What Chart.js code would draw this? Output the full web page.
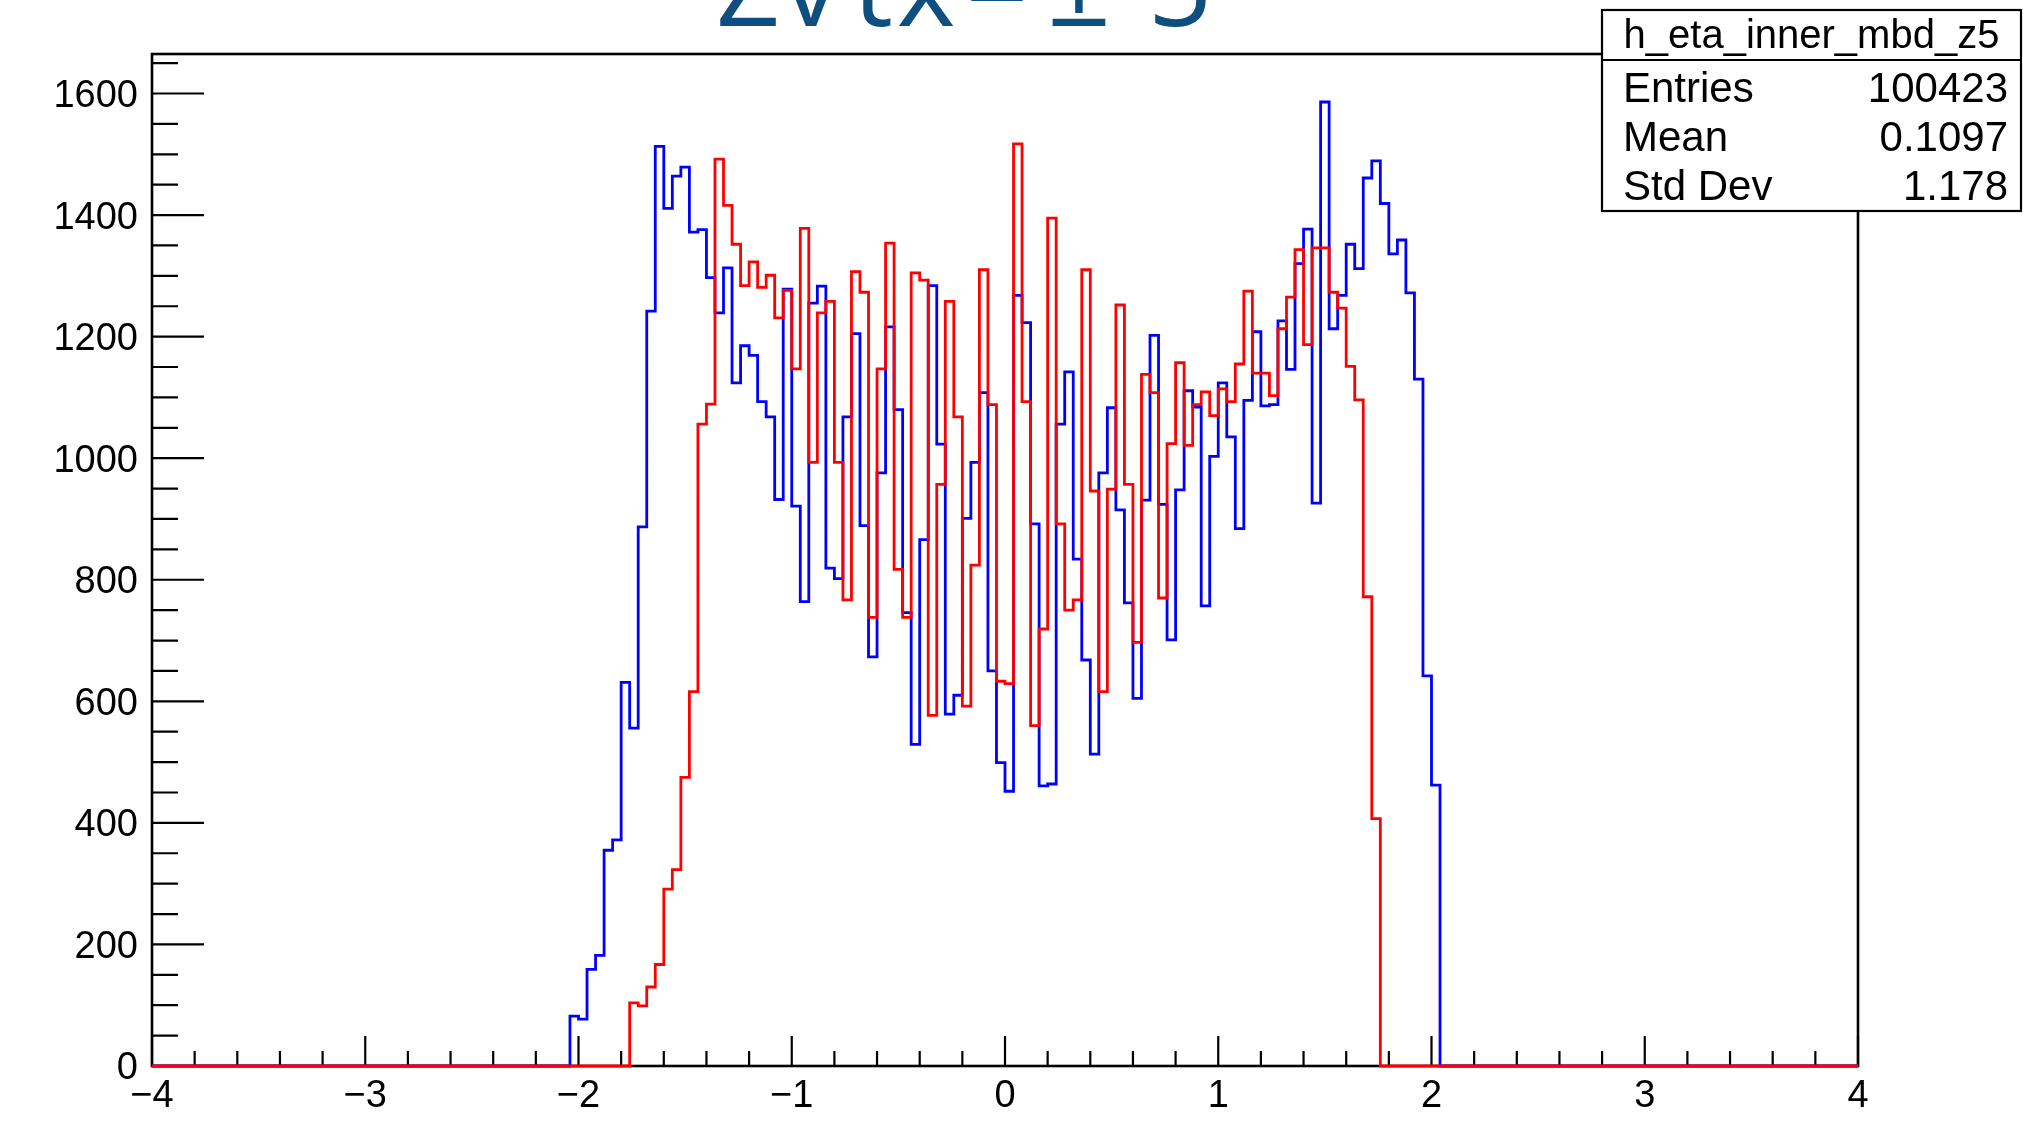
<!DOCTYPE html>
<html>
<head>
<meta charset="utf-8">
<script src="https://cdn.jsdelivr.net/npm/chart.js@4.4.0/dist/chart.umd.min.js"></script>
<style>
  html, body { margin: 0; padding: 0; background: #fff; }
  canvas { display: block; }
</style>
</head>
<body>
<canvas id="myChart" width="2023" height="1124"></canvas>
<script>

// histogram binning (200 bins from -4 to 4)
const xMin = -4;
const xMax = 4;
const binWidth = 0.04;
const nBins = 200;

// blue histogram, bins starting at -2.04
const blueStart = -2.04;
const blueCounts = [
    82, 77, 159, 182, 355, 372, 631, 556, 887, 1242,
    1513, 1411, 1464, 1479, 1372, 1376, 1297, 1239, 1313, 1124,
    1185, 1169, 1093, 1068, 932, 1278, 921, 764, 1255, 1283,
    819, 802, 1068, 1205, 889, 673, 976, 1216, 1080, 746,
    529, 866, 1284, 1023, 579, 610, 901, 993, 1108, 650,
    499, 452, 1268, 1223, 892, 461, 464, 1056, 1142, 834,
    668, 513, 976, 1083, 915, 762, 605, 931, 1202, 924,
    701, 948, 1111, 1084, 757, 1003, 1124, 1035, 884, 1095,
    1208, 1086, 1088, 1226, 1146, 1320, 1377, 926, 1586, 1213,
    1268, 1352, 1312, 1461, 1489, 1419, 1336, 1359, 1272, 1130,
    642, 462
];

// red histogram, bins starting at -1.76
const redStart = -1.76;
const redCounts = [
    104, 99, 130, 167, 291, 323, 475, 616, 1056, 1089,
    1492, 1416, 1352, 1284, 1323, 1281, 1301, 1231, 1276, 1147,
    1378, 993, 1239, 1258, 993, 767, 1307, 1273, 738, 1147,
    1354, 817, 738, 1305, 1293, 577, 957, 1258, 1068, 592,
    824, 1310, 1088, 633, 629, 1517, 1093, 560, 719, 1395,
    892, 750, 767, 1310, 946, 616, 949, 1252, 957, 697,
    1138, 1108, 770, 1024, 1157, 1021, 1088, 1109, 1070, 1114,
    1093, 1155, 1275, 1140, 1140, 1103, 1213, 1265, 1343, 1187,
    1346, 1346, 1273, 1247, 1151, 1096, 772, 407
];

const yMax = 1665;
const yTickStep = 200;
const xTickStep = 1;

const titleChars = ['Z', 'v', 't', 'x', '=', '\u00b1', '5'];
const statsName = 'h_eta_inner_mbd_z5';
const statsLabels = ['Entries', 'Mean', 'Std Dev'];
const statsValues = ['100423', '0.1097', '1.178'];


// turn counts into step points on the bin low edges
function histPoints(start, counts) {
    let firstBin = Math.round((start - xMin) / binWidth);
    let pts = [];
    for (let i = 0; i < nBins; i++) {
        let x = Math.round((xMin + i * binWidth) * 100) / 100;
        let k = i - firstBin;
        let y = (k >= 0 && k < counts.length) ? counts[k] : 0;
        pts.push({ x: x, y: y });
    }
    pts.push({ x: xMax, y: 0 }); // closing edge
    return pts;
}

function fmtMinus(v) {
    return String(v).replace('-', '\u2212');
}

// frame + inside ticks, ROOT style
const frameTicks = {
    id: 'frameTicks',
    beforeDatasetsDraw(chart) {
        const c = chart.ctx;
        const a = chart.chartArea;
        const xs = chart.scales.x;
        const ys = chart.scales.y;
        c.save();
        c.strokeStyle = '#000';
        c.lineWidth = 2.6;
        c.strokeRect(a.left, a.top, a.right - a.left, a.bottom - a.top);

        c.lineWidth = 2.2;
        c.beginPath();
        for (let v = 0; v <= yMax; v += 50) {
            let py = ys.getPixelForValue(v);
            let len = (v % 200 === 0) ? 52 : 26;
            c.moveTo(a.left, py);
            c.lineTo(a.left + len, py);
        }
        for (let i = 0; i <= 40; i++) {
            let v = xMin + i * 0.2;
            let px = xs.getPixelForValue(v);
            let len = (i % 5 === 0) ? 30 : 15;
            c.moveTo(px, a.bottom);
            c.lineTo(px, a.bottom - len);
        }
        c.stroke();
        c.restore();
    },
    afterDraw(chart) {
        const c = chart.ctx;
        c.save();

        // title, mostly cut off above the canvas
        const glyphX = [748, 811, 873, 926, 997, 1079, 1180];
        c.fillStyle = '#0f4f80';
        c.font = '112px "Open Sans"';
        c.textAlign = 'center';
        c.textBaseline = 'alphabetic';
        titleChars.forEach((ch, i) => c.fillText(ch, glyphX[i], 26));

        // stats box
        let bx = 1602, by = 10, bw = 419, bh = 201;
        c.fillStyle = '#fff';
        c.fillRect(bx, by, bw, bh);
        c.strokeStyle = '#000';
        c.lineWidth = 2.2;
        c.strokeRect(bx, by, bw, bh);
        c.beginPath();
        c.moveTo(bx, 60);
        c.lineTo(bx + bw, 60);
        c.stroke();

        c.fillStyle = '#000';
        c.font = '40px "Liberation Sans"';
        c.textBaseline = 'middle';
        c.textAlign = 'center';
        c.fillText(statsName, bx + bw / 2, 37);
        c.font = '42px "Liberation Sans"';
        statsLabels.forEach((lab, i) => {
            let ty = 90 + i * 49;
            c.textAlign = 'left';
            c.fillText(lab, 1623, ty);
            c.textAlign = 'right';
            c.fillText(statsValues[i], 2008, ty);
        });
        c.restore();
    }
};

var chart = document.getElementById('myChart').getContext('2d');

var myChart = new Chart(chart, {
    type: 'line',
    data: {
        datasets: [
            {
                label: 'red',
                data: histPoints(redStart, redCounts),
                borderColor: '#ff0000',
                borderWidth: 2.8,
                stepped: 'before',
                pointRadius: 0,
                fill: false,
                clip: false,
                order: 0
            },
            {
                label: 'blue',
                data: histPoints(blueStart, blueCounts),
                borderColor: '#0000ff',
                borderWidth: 2.8,
                stepped: 'before',
                pointRadius: 0,
                fill: false,
                clip: false,
                order: 1
            }
        ]
    },
    options: {
        responsive: false,
        animation: false,
        devicePixelRatio: 1,
        layout: {
            padding: { left: 0, top: 54, right: 165, bottom: 0 }
        },
        plugins: {
            legend: { display: false },
            tooltip: { enabled: false },
            title: { display: false }
        },
        scales: {
            x: {
                type: 'linear',
                min: xMin,
                max: xMax,
                grid: { display: false, drawTicks: false },
                border: { display: false },
                ticks: {
                    stepSize: xTickStep,
                    autoSkip: false,
                    maxRotation: 0,
                    padding: 8,
                    color: '#000',
                    font: { family: 'Liberation Sans', size: 38 },
                    callback: v => fmtMinus(v)
                },
                afterFit: s => { s.height = 58; }
            },
            y: {
                min: 0,
                max: yMax,
                grid: { display: false, drawTicks: false },
                border: { display: false },
                ticks: {
                    stepSize: yTickStep,
                    includeBounds: false,
                    padding: 14,
                    labelOffset: 3,
                    color: '#000',
                    font: { family: 'Liberation Sans', size: 38 },
                    callback: v => String(v)
                },
                afterFit: s => { s.width = 152; }
            }
        }
    },
    plugins: [frameTicks]
});
</script>
</body>
</html>
